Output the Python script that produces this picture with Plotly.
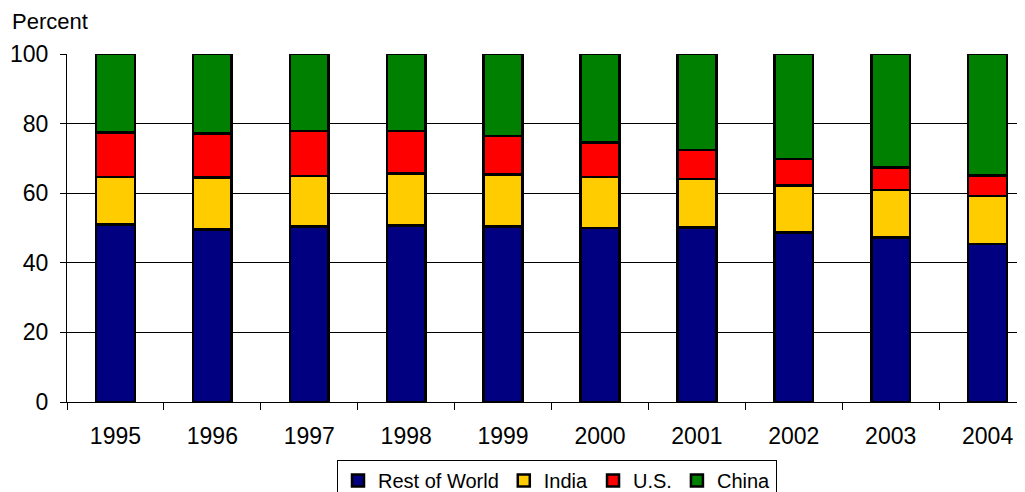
import plotly.graph_objects as go

years = ["1995", "1996", "1997", "1998", "1999", "2000", "2001", "2002", "2003", "2004"]
rest_of_world = [51.0, 49.6, 50.5, 50.7, 50.5, 50.0, 50.2, 48.7, 47.2, 45.4]
india = [13.7, 14.9, 14.4, 15.0, 14.9, 14.7, 13.9, 13.5, 13.7, 13.8]
us = [12.7, 12.7, 13.0, 12.2, 11.1, 9.9, 8.3, 7.6, 6.5, 5.9]
china = [22.6, 22.8, 22.1, 22.1, 23.5, 25.4, 27.6, 30.2, 32.6, 34.9]

series = [
    ("Rest of World", rest_of_world, "#000080"),
    ("India", india, "#FFCC00"),
    ("U.S.", us, "#FF0000"),
    ("China", china, "#008000"),
]

fig = go.Figure()
for name, vals, color in series:
    fig.add_trace(go.Bar(
        x=years, y=vals, name=name, width=0.4,
        marker=dict(color=color, line=dict(color="black", width=2.5)),
    ))

W, H = 1017, 484
L, T, B = 59, 46, 90
font = "Arial, Liberation Sans, sans-serif"
fig.update_layout(
    barmode="stack",
    width=W, height=H,
    margin=dict(l=L, r=0, t=T, b=B, pad=0, autoexpand=False),
    plot_bgcolor="white", paper_bgcolor="white",
    font=dict(family=font, size=23, color="black"),
    showlegend=True,
    legend=dict(
        orientation="h", traceorder="normal",
        xref="container", yref="container",
        x=549 / W, xanchor="center", y=(H - 452) / H, yanchor="top",
        font=dict(size=20, color="black"), bordercolor="black", borderwidth=1,
        itemwidth=30, tracegroupgap=0,
    ),
    xaxis=dict(
        range=[-0.5, 9.386], showline=True, linecolor="black", linewidth=1,
        ticks="outside", tickson="boundaries", ticklen=7, tickcolor="black",
        showgrid=False, tickfont=dict(size=23), ticklabelstandoff=13,
        automargin=False,
    ),
    yaxis=dict(
        range=[0, 100], dtick=20, showline=True, linecolor="black", linewidth=1,
        ticks="outside", ticklen=6, tickcolor="black",
        showgrid=True, gridcolor="black", gridwidth=1, zeroline=False,
        tickfont=dict(size=23), ticklabelstandoff=7, automargin=False,
    ),
    annotations=[dict(
        text="Percent", xref="paper", yref="paper",
        x=(2 - L) / (W - L), y=1 + 18 / (H - T - B), xanchor="left", yanchor="bottom",
        showarrow=False, font=dict(size=22),
    )],
)

fig.write_html("out.html")
